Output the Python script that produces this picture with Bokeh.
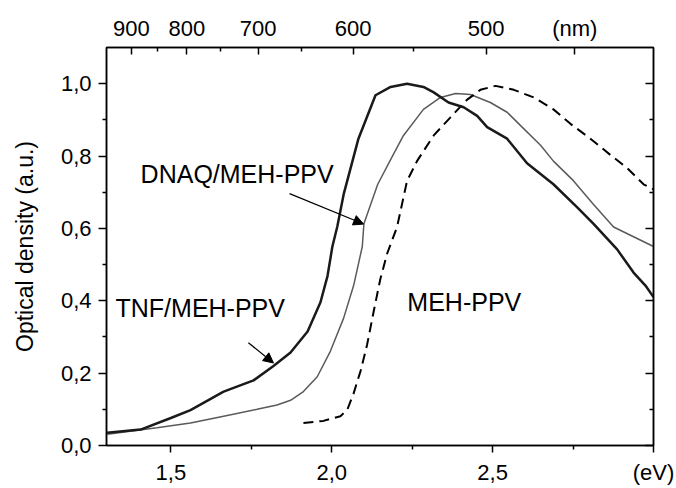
from bokeh.plotting import figure
from bokeh.models import (Range1d, LinearAxis, FixedTicker, CustomJSTickFormatter,
                          Arrow, NormalHead, Label)
from bokeh.embed import file_html
from bokeh.resources import INLINE

FONT = "Liberation Sans"

# ---- data (energy in eV, optical density) ----
tnf_x = [1.302, 1.406, 1.5, 1.561, 1.664, 1.757, 1.819, 1.872, 1.925, 1.965, 1.987,
         2.002, 2.017, 2.037, 2.083, 2.136, 2.183, 2.234, 2.285, 2.317, 2.363, 2.41,
         2.452, 2.483, 2.545, 2.607, 2.689, 2.763, 2.813, 2.887, 2.938, 2.975, 3.0]
tnf_y = [0.035, 0.044, 0.076, 0.098, 0.149, 0.18, 0.22, 0.257, 0.315, 0.396, 0.469,
         0.55, 0.604, 0.694, 0.848, 0.968, 0.991, 1.0, 0.991, 0.976, 0.948, 0.935,
         0.911, 0.88, 0.848, 0.78, 0.722, 0.658, 0.613, 0.542, 0.478, 0.442, 0.41]

dnaq_x = [1.302, 1.457, 1.561, 1.664, 1.768, 1.83, 1.872, 1.912, 1.955, 1.996, 2.037,
          2.068, 2.095, 2.1, 2.143, 2.183, 2.223, 2.285, 2.338, 2.385, 2.431, 2.493,
          2.545, 2.587, 2.649, 2.689, 2.751, 2.813, 2.876, 2.938, 3.0]
dnaq_y = [0.031, 0.049, 0.062, 0.081, 0.1, 0.112, 0.125, 0.149, 0.19, 0.261, 0.352,
          0.442, 0.55, 0.613, 0.722, 0.79, 0.857, 0.929, 0.962, 0.973, 0.97, 0.948,
          0.921, 0.884, 0.83, 0.786, 0.732, 0.667, 0.604, 0.577, 0.55]

meh_x = [1.912, 1.974, 2.027, 2.048, 2.068, 2.09, 2.11, 2.13, 2.151, 2.172, 2.203,
         2.234, 2.265, 2.317, 2.369, 2.421, 2.462, 2.509, 2.566, 2.628, 2.689, 2.742,
         2.804, 2.866, 2.918, 2.969, 3.0]
meh_y = [0.062, 0.068, 0.081, 0.098, 0.144, 0.207, 0.279, 0.369, 0.46, 0.53, 0.604,
         0.731, 0.786, 0.857, 0.907, 0.956, 0.983, 0.994, 0.983, 0.962, 0.929, 0.889,
         0.848, 0.803, 0.767, 0.722, 0.708]

# ---- tick labels ----
ev_ticks = [1.5, 2.0, 2.5, 3.0]
ev_labels = ["1,5", "2,0", "2,5", "(eV)"]
ev_minor = [1.75, 2.25, 2.75]
od_ticks = [0.0, 0.2, 0.4, 0.6, 0.8, 1.0]
od_labels = ["0,0", "0,2", "0,4", "0,6", "0,8", "1,0"]
od_minor = [0.1, 0.3, 0.5, 0.7, 0.9]
nm_ticks = [900, 800, 700, 600, 500, 450]
nm_labels = ["900", "800", "700", "600", "500", "(nm)"]
nm_minor = [850, 750, 650, 550]
HC = 1239.84  # eV*nm

# ---- annotations ----
label_text = ["DNAQ/MEH-PPV", "TNF/MEH-PPV", "MEH-PPV"]
label_x = [1.406, 1.328, 2.235]
label_y = [0.751, 0.379, 0.396]
arrow_start = [(1.869, 0.696), (1.741, 0.284)]
arrow_end = [(2.099, 0.612), (1.819, 0.228)]

p = figure(width=675, height=487, output_backend="svg", toolbar_location=None,
           x_range=Range1d(1.3, 3.0), y_range=Range1d(0, 1.1),
           min_border_left=106, min_border_right=22, min_border_top=47, min_border_bottom=34)
p.grid.visible = False
p.outline_line_color = "black"
p.outline_line_width = 1.5
p.background_fill_color = "white"
p.border_fill_color = "white"


def mapper(ticks, labels):
    return CustomJSTickFormatter(args=dict(t=ticks, l=labels), code="""
        let best = 0, d = 1e9;
        for (let i = 0; i < t.length; i++) {
            const dd = Math.abs(t[i] - tick);
            if (dd < d) { d = dd; best = i; }
        }
        return d < 1e-6 ? l[best] : "";
    """)


def style(ax, font_size="22px"):
    ax.axis_line_width = 1.5
    ax.axis_line_color = "black"
    ax.major_tick_line_width = 1.5
    ax.minor_tick_line_width = 1.5
    ax.major_label_text_font = FONT
    ax.major_label_text_font_size = font_size
    ax.major_label_text_color = "black"
    ax.axis_label_text_font = FONT
    ax.axis_label_text_font_style = "normal"
    ax.axis_label_text_color = "black"


# bottom axis
xb = p.xaxis[0]
xb.ticker = FixedTicker(ticks=ev_ticks, minor_ticks=ev_minor)
xb.formatter = mapper(ev_ticks, ev_labels)
style(xb)
xb.major_tick_out = 7
xb.major_tick_in = 0
xb.minor_tick_out = 4
xb.minor_tick_in = 0
xb.major_label_standoff = 7

# left axis
yl = p.yaxis[0]
yl.ticker = FixedTicker(ticks=od_ticks, minor_ticks=od_minor)
yl.formatter = mapper(od_ticks, od_labels)
style(yl)
yl.major_tick_out = 8
yl.major_tick_in = 0
yl.minor_tick_out = 4
yl.minor_tick_in = 0
yl.major_label_standoff = 7
yl.axis_label = "Optical density (a.u.)"
yl.axis_label_text_font_size = "23px"
yl.axis_label_standoff = 20

# top axis (wavelength)
nm_ev = [HC / v for v in nm_ticks]
nm_ev_minor = [HC / v for v in nm_minor]
xt = LinearAxis(ticker=FixedTicker(ticks=nm_ev, minor_ticks=nm_ev_minor),
                formatter=mapper(nm_ev, nm_labels))
style(xt)
xt.major_tick_in = 7
xt.major_tick_out = 0
xt.minor_tick_in = 4
xt.minor_tick_out = 0
xt.major_label_standoff = 7
p.add_layout(xt, "above")

# right axis
yr = LinearAxis(ticker=FixedTicker(ticks=od_ticks, minor_ticks=od_minor),
                formatter=CustomJSTickFormatter(code="return '';"))
style(yr)
yr.major_tick_in = 8
yr.major_tick_out = 0
yr.minor_tick_in = 4
yr.minor_tick_out = 0
yr.major_label_text_font_size = "1px"
yr.major_label_standoff = 0
p.add_layout(yr, "right")

# curves
p.line(dnaq_x, dnaq_y, line_color="#5a5a5a", line_width=1.5)
p.line(meh_x, meh_y, line_color="black", line_width=2, line_dash="10 6")
p.line(tnf_x, tnf_y, line_color="#1a1a1a", line_width=2.5)

for t, x, y in zip(label_text, label_x, label_y):
    p.add_layout(Label(x=x, y=y, text=t, text_font=FONT, text_font_size="25px",
                       text_color="black", text_baseline="alphabetic", text_align="left"))

for (xs, ys), (xe, ye) in zip(arrow_start, arrow_end):
    p.add_layout(Arrow(end=NormalHead(size=10, fill_color="black", line_color="black"),
                       x_start=xs, y_start=ys, x_end=xe, y_end=ye,
                       line_color="black", line_width=1.2))

open("out.html", "w").write(file_html(p, INLINE))
